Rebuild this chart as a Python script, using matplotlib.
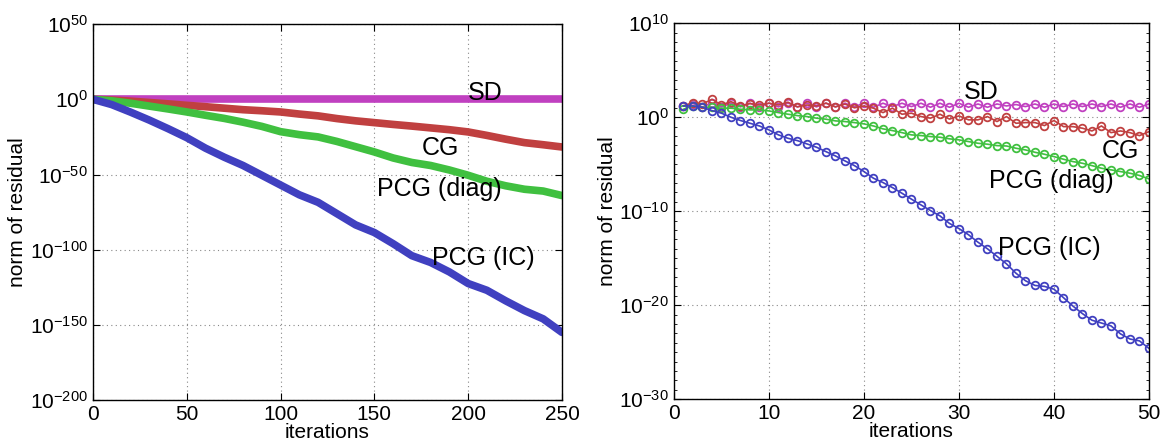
import numpy as np
import matplotlib
matplotlib.use("Agg")
import matplotlib.pyplot as plt

plt.rcParams["font.family"] = ["Liberation Sans", "DejaVu Sans"]
plt.rcParams["mathtext.fontset"] = "custom"
plt.rcParams["mathtext.rm"] = "Liberation Sans"
plt.rcParams["mathtext.it"] = "Liberation Sans:italic"

# left panel: log10 of residual norm, read every 10 iterations
iters_long = list(range(0, 251, 10))
sd_long = [0.5, 0.5, 0.5, 0.5, 0.5, 0.5, 0.5, 0.5, 0.5, 0.5, 0.5, 0.5, 0.5,
           0.5, 0.5, 0.5, 0.5, 0.5, 0.5, 0.5, 0.5, 0.5, 0.5, 0.5, 0.5, 0.5]
cg_long = [0, -0.5, -1.2, -2.1, -3, -4, -4.9, -5.9, -6.9, -7.6, -8.4, -9.8, -11,
           -12.8, -14.3, -15.5, -16.7, -17.8, -19, -20.2, -21.7, -24, -26.5,
           -28.8, -30.2, -31.7]
diag_long = [0, -1.0, -2.6, -4.5, -6.4, -8.4, -10.6, -12.7, -15.2, -18, -21.5,
             -23.5, -25, -28, -31.5, -35, -39, -42, -44, -47, -50.5, -54.5,
             -57.5, -59.8, -61, -64]
ic_long = [0, -3.5, -8.5, -13.8, -19.5, -25.5, -32.5, -38.5, -44, -50.5, -57,
           -63.5, -68.5, -76, -83.5, -88.6, -96, -104, -108.5, -114.8, -122.5,
           -127, -134, -140.5, -146, -155]

# right panel: log10 of residual norm, iterations 1..50
iters_short = list(range(1, 51))
sd_short = [1.2, 1.45, 1.1, 1.5, 1.1, 1.5, 1.1, 1.5, 1.1, 1.5,
            1.1, 1.5, 1.1, 1.5, 1.1, 1.5, 1.1, 1.5, 1.1, 1.5,
            1.06, 1.49, 1.13, 1.49, 1.13, 1.49, 1.06, 1.49, 1.06, 1.49,
            1.06, 1.41, 1.06, 1.41, 1.2, 1.35, 1.13, 1.41, 1.06, 1.41,
            1.13, 1.41, 1.13, 1.41, 1.13, 1.41, 1.06, 1.41, 1.06, 1.41]
cg_short = [1.2, 1.56, 1.41, 1.91, 1.31, 1.66, 1.2, 1.45, 1.3, 1.5,
            1.3, 1.6, 1.1, 1.3, 1.2, 1.5, 1.1, 1.4, 1.0, 1.2,
            0.96, 0.49, 0.96, 0.32, 0.43, 0.07, -0.1, 0.32, -0.2, 0.14,
            -0.28, -0.28, 0.07, -0.46, 0.07, -0.64, -0.57, -0.57, -0.89, -0.35,
            -1.0, -1.0, -1.17, -1.46, -0.93, -1.64, -1.46, -1.64, -1.96, -1.53]
diag_short = [0.85, 1.2, 1.06, 1.06, 0.96, 0.96, 0.85, 0.78, 0.78, 0.67,
              0.49, 0.32, 0.17, 0.07, -0.1, -0.21, -0.39, -0.46, -0.57, -0.71,
              -0.93, -1.24, -1.42, -1.64, -1.88, -1.95, -2.06, -2.13, -2.3, -2.41,
              -2.59, -2.77, -2.87, -3.02, -3.06, -3.3, -3.48, -3.73, -3.94, -4.19,
              -4.47, -4.72, -4.9, -5.15, -5.43, -5.6, -5.78, -5.96, -6.2, -6.56]
ic_short = [1.2, 1.2, 1.06, 0.7, 0.43, 0.0, -0.35, -0.64, -0.93, -1.35,
            -1.88, -2.24, -2.49, -2.84, -3.19, -3.66, -4.12, -4.65, -5.15, -5.78,
            -6.49, -6.95, -7.49, -8.09, -8.72, -9.33, -9.93, -10.5, -11.3, -11.85,
            -12.5, -13.3, -14.0, -14.8, -15.6, -16.6, -17.4, -17.9, -18.0, -18.3,
            -19.2, -20.1, -20.9, -21.6, -21.9, -22.2, -23.05, -23.6, -23.8, -24.6]

colors = {"SD": "#c040c0", "CG": "#c04040", "diag": "#40c040", "IC": "#4040c0"}

fig = plt.figure(figsize=(11.62, 4.47), dpi=100)
ax1 = fig.add_axes([0.080, 0.105, 0.4036, 0.841])
ax2 = fig.add_axes([0.580, 0.107, 0.4088, 0.841])

# left: dense markers look like a thick band
for vals, key in [(sd_long, "SD"), (cg_long, "CG"), (diag_long, "diag"), (ic_long, "IC")]:
    ax1.plot(iters_long, 10.0 ** np.array(vals), color=colors[key], lw=5.5,
             solid_capstyle="round", solid_joinstyle="round")

for vals, key in [(sd_short, "SD"), (cg_short, "CG"), (diag_short, "diag"), (ic_short, "IC")]:
    ax2.plot(iters_short, 10.0 ** np.array(vals), color=colors[key], lw=1.2,
             marker="o", markersize=5.5, markerfacecolor="none", markeredgewidth=1.3)

for ax in (ax1, ax2):
    ax.set_yscale("log")
    ax.grid(True, which="major", linestyle=(0, (1, 3)), color="#888888", linewidth=0.8)
    ax.tick_params(which="both", direction="in", top=True, right=True, labelsize=15)
    ax.tick_params(which="major", length=5)
    ax.tick_params(which="minor", length=2.5)
    ax.set_xlabel("iterations", fontsize=15, labelpad=-1)
    ax.set_ylabel("norm of residual", fontsize=15, labelpad=2)
    for sp in ax.spines.values():
        sp.set_linewidth(1.0)

# left axes
ax1.set_xlim(0, 250)
ax1.set_ylim(1e-200, 1e50)
ax1.set_xticks([0, 50, 100, 150, 200, 250])
yl = [50, 0, -50, -100, -150, -200]
ax1.set_yticks([10.0 ** e for e in yl])
ax1.set_yticklabels([r"$10^{%d}$" % e for e in yl])
ax1.yaxis.set_minor_locator(matplotlib.ticker.NullLocator())

ax1.text(209, 10.0 ** 4, "SD", fontsize=18, ha="center", va="center")
ax1.text(185, 10.0 ** -32.2, "CG", fontsize=18, ha="center", va="center")
ax1.text(184.4, 10.0 ** -59.5, "PCG (diag)", fontsize=18, ha="center", va="center")
ax1.text(208, 10.0 ** -105.5, "PCG (IC)", fontsize=18, ha="center", va="center")

# right axes
ax2.set_xlim(0, 50)
ax2.set_ylim(1e-30, 1e10)
ax2.set_xticks([0, 10, 20, 30, 40, 50])
yr = [10, 0, -10, -20, -30]
ax2.set_yticks([10.0 ** e for e in yr])
ax2.set_yticklabels([r"$10^{%d}$" % e for e in yr])
ax2.set_yticks([10.0 ** e for e in range(-30, 11) if e % 10 != 0], minor=True)
ax2.set_yticklabels([], minor=True)

ax2.text(32.3, 10.0 ** 2.64, "SD", fontsize=18, ha="center", va="center")
ax2.text(47.0, 10.0 ** -3.6, "CG", fontsize=18, ha="center", va="center")
ax2.text(39.7, 10.0 ** -6.8, "PCG (diag)", fontsize=18, ha="center", va="center")
ax2.text(39.5, 10.0 ** -13.9, "PCG (IC)", fontsize=18, ha="center", va="center")

fig.savefig("out.png", dpi=100)
